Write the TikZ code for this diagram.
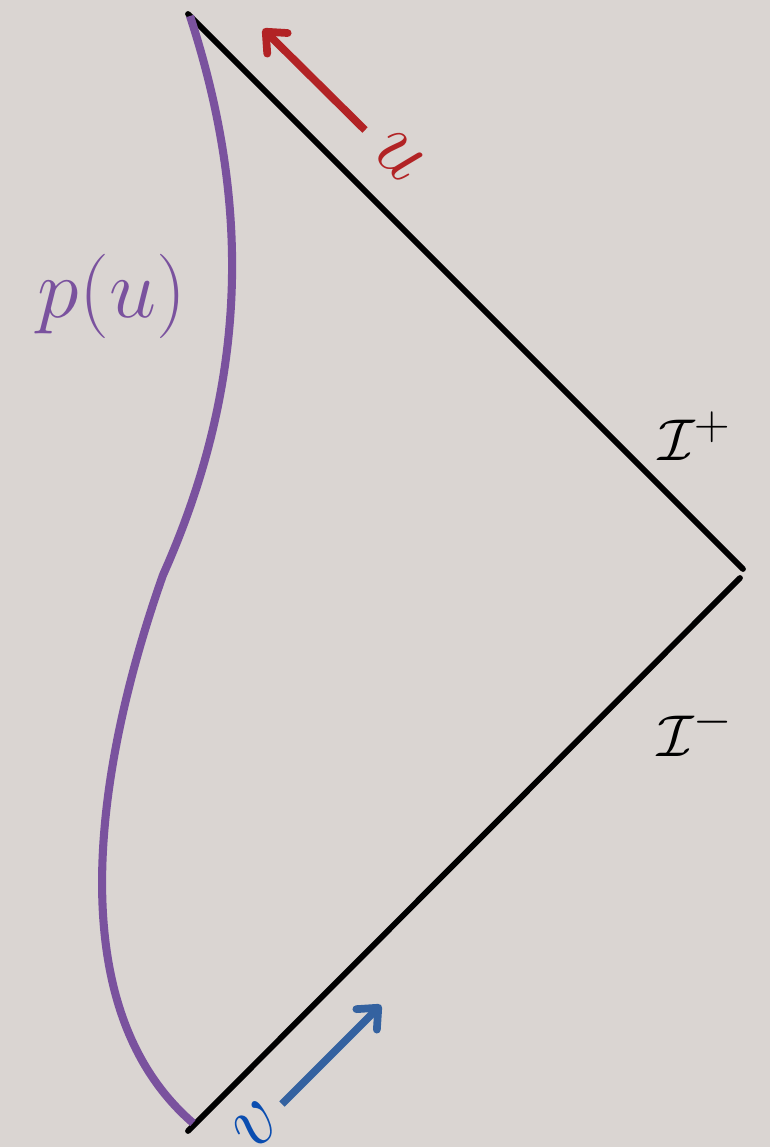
\documentclass[tikz,border=0pt]{standalone}
\usepackage{graphicx}
\usetikzlibrary{arrows.meta}
\definecolor{bg}{HTML}{DAD5D2}
\definecolor{pcurve}{HTML}{7A529E}
\definecolor{uarrow}{HTML}{B22325}
\definecolor{varrow}{HTML}{3462A0}
\definecolor{vtext}{HTML}{0A4DB0}
\tikzset{
  scri/.style={draw=black, line width=3.3pt, line cap=round},
  worldline/.style={draw=pcurve, line width=4.6pt},
  dirarrow/.style={line width=4.4pt, -{Straight Barb[length=0.33cm, width=0.58cm, line cap=round, line join=round]}},
  lbl/.style={inner sep=0pt, outer sep=0pt}
}
\newcommand{\largemath}[1]{\scalebox{1.93}{\Huge$#1$}}
\newcommand{\scrimath}[1]{\scalebox{1.35}{\Huge$#1$}}
\begin{document}
\begin{tikzpicture}[x=0.02cm, y=-0.02cm]
\fill[bg] (0,0) rectangle (770,1147);
\useasboundingbox (0,0) rectangle (770,1147);
% null boundaries
\coordinate (top) at (188,14);
\coordinate (rplus) at (743,569);
\coordinate (rminus) at (740,578);
\coordinate (bot) at (188,1131);
\draw[scri] (top) -- (rplus);
\draw[scri] (rminus) -- (bot);
% mirror trajectory
\coordinate (ptop) at (190,16);
\coordinate (pkink) at (163,575);
\coordinate (pbot) at (193,1123);
\draw[worldline] (ptop) .. controls (250,200) and (250,380) .. (pkink)
  .. controls (110,725) and (45,995) .. (pbot);
% arrows
\coordinate (ua) at (365,130);
\coordinate (ub) at (263,29);
\draw[dirarrow, draw=uarrow] (ua) -- (ub);
\coordinate (va) at (282,1104);
\coordinate (vb) at (381,1005);
\draw[dirarrow, draw=varrow] (va) -- (vb);
% labels
\node[lbl, text=pcurve] (plabel) at (112,296) {\largemath{p(u)}};
\node[lbl, text=uarrow, rotate=-45] (ulabel) at (399,156) {\largemath{u}};
\node[lbl, text=vtext, rotate=45] (vlabel) at (257,1125) {\largemath{v}};
\node[lbl] (iplus) at (695,436) {\scrimath{\mathcal{I}^+}};
\node[lbl] (iminus) at (695,731) {\scrimath{\mathcal{I}^-}};
\end{tikzpicture}
\end{document}
